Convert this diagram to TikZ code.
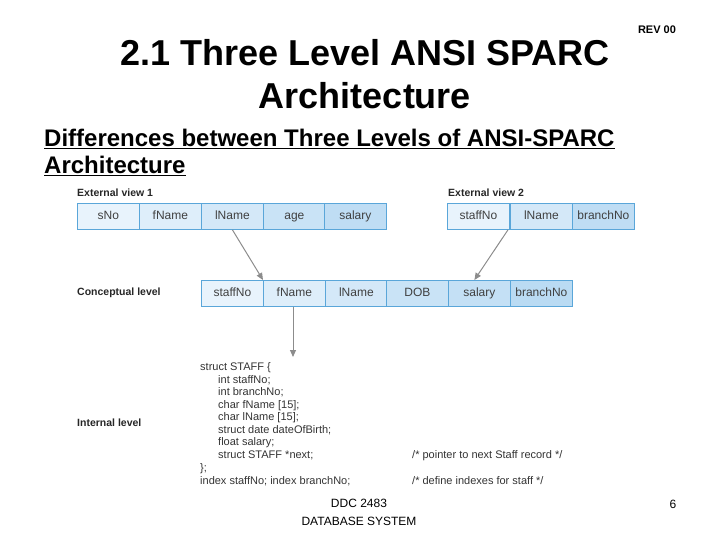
\documentclass[tikz,border=0pt]{standalone}
\usepackage{fontspec}
\setmainfont{Liberation Sans}
\usetikzlibrary{arrows.meta,calc}
\definecolor{bd}{HTML}{5AA6D9}
\definecolor{ca}{HTML}{E8F3FC}
\definecolor{cb}{HTML}{B5D8F2}
\tikzset{
 cell/.style={draw=bd,line width=0.8pt,minimum height=26pt,anchor=north west,inner sep=0pt,text height=8.5pt,text depth=2.5pt,font=\fontsize{12}{13}\selectfont,text=black!75},
 lbl/.style={anchor=west,font=\bfseries\fontsize{10.5}{11}\selectfont,inner sep=0pt,text=black!85},
 code/.style={anchor=base west,font=\fontsize{11}{12}\selectfont,inner sep=0pt,text=black!80},
 arr/.style={draw=black!45,line width=1pt,-{Triangle[length=7pt,width=6pt]}}
}
\begin{document}
\begin{tikzpicture}[x=1pt,y=-1pt]
\useasboundingbox (0,0) rectangle (720,540);
\node[anchor=center,font=\bfseries\fontsize{36}{38}\selectfont] (t1) at (365,53) {2.1 Three Level ANSI SPARC};
\node[anchor=center,font=\bfseries\fontsize{36}{38}\selectfont] (t2) at (365,96) {Architecture};
\node[anchor=center,font=\bfseries\fontsize{11}{13}\selectfont] (rev) at (657,30) {REV 00};
\node[anchor=west,inner sep=0pt,font=\bfseries\fontsize{24}{26}\selectfont] (s1) at (44,139) {\underline{Differences between Three Levels of ANSI-SPARC}};
\node[anchor=west,inner sep=0pt,font=\bfseries\fontsize{24}{26}\selectfont] (s2) at (44,166) {\underline{Architecture}};
% external view 1
\node[lbl] (l1) at (77,193) {External view 1};
\foreach \t/\x/\p [count=\i] in {sNo/77/0,fName/139/20,lName/201/40,age/263/60,salary/324/80}{
 \node[cell,minimum width=62pt,fill=cb!\p!ca] (e\i) at (\x,203) {\t};}
\node[lbl] (l2) at (448,193) {External view 2};
\foreach \t/\x/\p [count=\i] in {staffNo/447/0,lName/510/40,branchNo/572/80}{
 \node[cell,minimum width=62pt,fill=cb!\p!ca] (f\i) at (\x,203) {\t};}
\node[lbl] (l3) at (77,293) {Conceptual level};
\foreach \t/\x/\p [count=\i] in {staffNo/201/0,fName/263/20,lName/325/40,DOB/386/60,salary/448/70,branchNo/510/90}{
 \node[cell,minimum width=62pt,fill=cb!\p!ca] (c\i) at (\x,280) {\t};}
\node[lbl] (l4) at (77,423) {Internal level};
\coordinate (fa) at ($(f2.south west)+(-2,0)$);
\coordinate (fb) at ($(c5.north)+(-5,0)$);
\coordinate (ds) at ($(c2.south west)+(30,0)$);
\coordinate (dn) at (293,357);
\draw[arr] (e3.south) -- (c2.north west);
\draw[arr] (fa) -- (fb);
\draw[arr] (ds) -- (dn);
% code
\foreach \t/\x/\y in {{struct STAFF \{}/200/370,{int staffNo;}/218/383,{int branchNo;}/218/395,{char fName [15];}/218/408,{char lName [15];}/218/420,{struct date dateOfBirth;}/218/433,{float salary;}/218/445,{struct STAFF *next;}/218/458,{\};}/200/471,{index staffNo; index branchNo;}/200/484}{
 \node[code] at (\x,\y) {\t};}
\node[code] (cm1) at (412,458) {/* pointer to next Staff record */};
\node[code] (cm2) at (412,484) {/* define indexes for staff */};
\node[anchor=center,font=\fontsize{12}{13}\selectfont] (d1) at (359,503) {DDC 2483};
\node[anchor=center,font=\fontsize{12}{13}\selectfont] (d2) at (359,521) {DATABASE SYSTEM};
\node[anchor=center,font=\fontsize{12}{13}\selectfont] (pg) at (673,504) {6};
\end{tikzpicture}
\end{document}
